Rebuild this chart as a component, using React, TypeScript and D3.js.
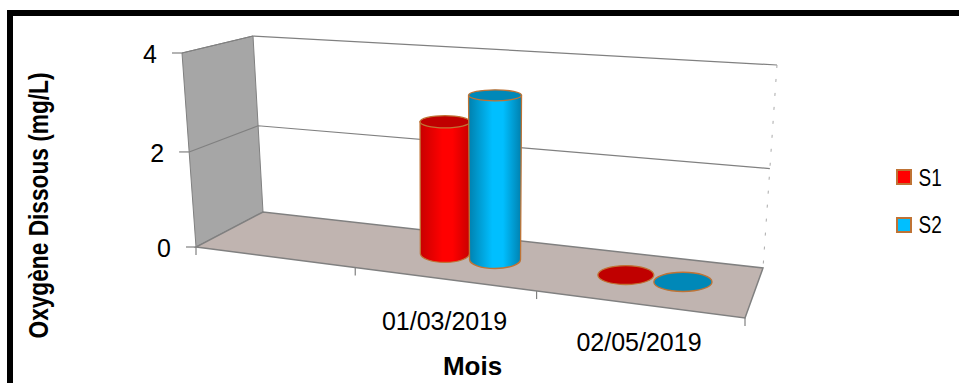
import React from "react";
import * as d3 from "d3";

const categories = ["", "01/03/2019", "02/05/2019"];
const seriesNames = ["S1", "S2"];
const s1Values = [null, 2.7, 0];
const s2Values = [null, 3.3, 0];
const yTicks = [0, 2, 4];

const seriesColors = [
  { edge: "#c80000", mid: "#ff0000", top: "#c00000" },
  { edge: "#0080ae", mid: "#00bfff", top: "#0088b8" },
];
const rimColor = "#bf7335";
const frameColor = "#808080";

type Pt = [number, number];

// Projective map of the unit square onto a quad (order: p00, p10, p11, p01).
function quadMap([p0, p1, p2, p3]: Pt[]) {
  const dx1 = p1[0] - p2[0], dx2 = p3[0] - p2[0], sx = p0[0] - p1[0] + p2[0] - p3[0];
  const dy1 = p1[1] - p2[1], dy2 = p3[1] - p2[1], sy = p0[1] - p1[1] + p2[1] - p3[1];
  const det = dx1 * dy2 - dx2 * dy1;
  const g = (sx * dy2 - dx2 * sy) / det;
  const h = (dx1 * sy - sx * dy1) / det;
  const a = p1[0] - p0[0] + g * p1[0], b = p3[0] - p0[0] + h * p3[0];
  const d = p1[1] - p0[1] + g * p1[1], e = p3[1] - p0[1] + h * p3[1];
  return (u: number, v: number): Pt => {
    const w = g * u + h * v + 1;
    return [(a * u + b * v + p0[0]) / w, (d * u + e * v + p0[1]) / w];
  };
}

// Plot-box corners: floor and ceiling, front-left / front-right / back-right / back-left.
const floorMap = quadMap([[196, 247], [745, 318], [763, 268], [263, 212]]);
const ceilMap = quadMap([[182, 53], [761, 94], [777, 65], [253, 36]]);

const uScale = d3.scaleLinear().domain([0, categories.length]).range([0, 1]);
// Height foreshortens slightly towards the top of the box.
const hScale = d3.scaleLinear().domain([0, 2, 4]).range([0, 0.49, 1]);
const ryScale = d3.scaleLinear().domain([96, 276]).range([5.5, 9.5]);

function project(cat: number, depth: number, value: number): Pt {
  const u = uScale(cat);
  const f = floorMap(u, depth);
  const c = ceilMap(u, depth);
  const t = hScale(value);
  return [f[0] + (c[0] - f[0]) * t, f[1] + (c[1] - f[1]) * t];
}

const poly = (pts: Pt[]) => d3.line()(pts) + "Z";
const seriesOffset = [0.36, 0.65];
const barHalfWidth = 0.145;
const barDepth = 0.52;

function Cylinder({ cat, s, value }: { cat: number; s: number; value: number }) {
  const u = cat + seriesOffset[s];
  const base = project(u, barDepth, 0);
  // Columns stay upright on screen, so the top shares the base's x.
  const topY = project(u, barDepth, value)[1];
  const baseRx = (project(u + barHalfWidth, barDepth, 0)[0] - project(u - barHalfWidth, barDepth, 0)[0]) / 2;
  const topRx = (project(u + barHalfWidth, barDepth, value)[0] - project(u - barHalfWidth, barDepth, value)[0]) / 2;
  const baseRy = ryScale(base[1]);
  const topRy = ryScale(topY);
  const c = seriesColors[s];
  const topEllipse = <ellipse cx={base[0]} cy={topY} rx={topRx} ry={topRy} fill={c.top} stroke={rimColor} strokeWidth={1.3} />;
  if (value === 0) return topEllipse;
  const body = `M${base[0] - topRx},${topY} L${base[0] - baseRx},${base[1]} A${baseRx},${baseRy} 0 0 0 ${base[0] + baseRx},${base[1]} L${base[0] + topRx},${topY} Z`;
  return (
    <g>
      <path d={body} fill={`url(#cyl${s})`} stroke={rimColor} strokeWidth={1.3} />
      {topEllipse}
    </g>
  );
}

export default function App() {
  const nCat = categories.length;
  const gridLines = yTicks.filter((t) => t > 0);
  return (
    <svg
      width={959}
      height={383}
      style={{ position: "absolute", left: 0, top: 0, background: "#fff" }}
      fontFamily="'Liberation Sans', Arial, sans-serif"
    >
      <defs>
        {seriesColors.map((c, i) => (
          <linearGradient key={i} id={`cyl${i}`} x1="0" x2="1" y1="0" y2="0">
            <stop offset="0" stopColor={c.edge} />
            <stop offset="0.45" stopColor={c.mid} />
            <stop offset="0.65" stopColor={c.mid} />
            <stop offset="1" stopColor={c.edge} />
          </linearGradient>
        ))}
      </defs>

      {/* Outer frame */}
      <path d="M10,383 V13 H959" fill="none" stroke="#000" strokeWidth={6} />

      {/* Side wall */}
      <path
        d={poly([project(0, 0, 0), project(0, 1, 0), project(0, 1, 4), project(0, 0, 4)])}
        fill="#a6a6a6"
        stroke={frameColor}
        strokeWidth={1}
      />
      {/* Floor */}
      <path
        d={poly([project(0, 0, 0), project(nCat, 0, 0), project(nCat, 1, 0), project(0, 1, 0)])}
        fill="#c0b4b0"
        stroke={frameColor}
        strokeWidth={1.5}
      />
      {/* Gridlines on both walls */}
      {gridLines.map((t) => (
        <path
          key={t}
          d={d3.line()([project(0, 0, t), project(0, 1, t), project(nCat, 1, t)])!}
          fill="none"
          stroke={frameColor}
          strokeWidth={1.2}
        />
      ))}
      {/* Far right edge of the back wall */}
      <path
        d={d3.line()([project(nCat, 1, 4), project(nCat, 1, 0)])!}
        fill="none"
        stroke="#aaa"
        strokeWidth={1}
        strokeDasharray="3 11"
      />

      {/* Value axis ticks and labels */}
      {yTicks.map((t) => {
        const [x, y] = project(0, 0, t);
        return (
          <g key={t}>
            <line x1={x - 10} x2={x} y1={y} y2={y} stroke={frameColor} strokeWidth={1.2} />
            <text x={x - 32} y={y + 10} fontSize={25} textAnchor="middle" fill="#000">
              {t}
            </text>
          </g>
        );
      })}

      {/* Category axis ticks and labels */}
      {d3.range(nCat + 1).map((i) => {
        const [x, y] = project(i, 0, 0);
        return <line key={i} x1={x} x2={x} y1={y} y2={y + 8} stroke={frameColor} strokeWidth={1.2} />;
      })}
      {categories.map((c, i) => (
        <text key={i} x={i === 1 ? 444.5 : 639} y={i === 1 ? 330 : 351} fontSize={25} textAnchor="middle" fill="#000">
          {c}
        </text>
      ))}

      {/* Columns, left to right within each category */}
      {categories.map((_, i) => (
        <g key={i}>
          {s1Values[i] !== null && <Cylinder cat={i} s={0} value={s1Values[i] as number} />}
          {s2Values[i] !== null && <Cylinder cat={i} s={1} value={s2Values[i] as number} />}
        </g>
      ))}

      {/* Axis titles */}
      <text x={472.5} y={375} fontSize={26} fontWeight="bold" textAnchor="middle" fill="#000">
        Mois
      </text>
      <text
        transform="translate(48,205.5) rotate(-90) scale(1,1.2)"
        fontSize={22.7}
        fontWeight="bold"
        textAnchor="middle"
        fill="#000"
      >
        Oxygène Dissous (mg/L)
      </text>

      {/* Legend */}
      {seriesNames.map((n, i) => (
        <g key={n}>
          <rect
            x={897}
            y={170 + i * 48}
            width={14}
            height={14}
            fill={seriesColors[i].mid}
            stroke={rimColor}
            strokeWidth={2}
          />
          <text
            transform={`translate(918.5,${186 + i * 47}) scale(1,1.3)`}
            fontSize={19}
            fill="#000"
          >
            {n}
          </text>
        </g>
      ))}
    </svg>
  );
}
